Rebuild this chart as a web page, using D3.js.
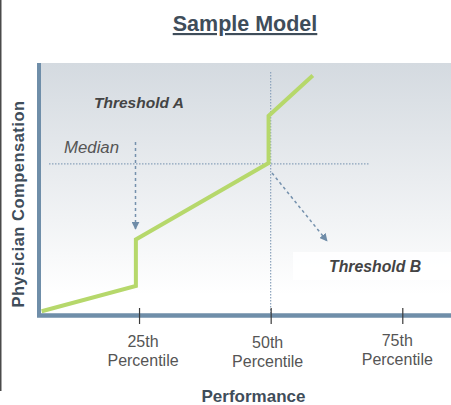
<!DOCTYPE html>
<html>
<head>
<meta charset="utf-8">
<script src="https://cdn.jsdelivr.net/npm/d3@7"></script>
<style>
  html, body { margin: 0; padding: 0; background: #fff; }
  svg { display: block; font-family: "Liberation Sans", Arial, sans-serif; }
</style>
</head>
<body>
<svg id="chart" width="451" height="405"></svg>
<script>
// Performance percentile (x) and compensation index (y) along the pay curve
const curvePct = [6.5, 24.4, 24.4, 49.6, 49.6, 58];
const curveComp = [1.5, 11.5, 30, 60.3, 79, 95];

// Percentile ticks along the performance axis
const tickPct = [25, 50, 75];
const tickTop = ["25th", "50th", "75th"];
const tickBottom = ["Percentile", "Percentile", "Percentile"];
const tickShift = [0, 1, -1];

// Reference levels
const medianComp = 60;
const medianPct = 50;

const svg = d3.select("#chart");
const W = 451, H = 405;
const plot = { left: 39, right: 451, top: 63, bottom: 315 };

const x = d3.scaleLinear().domain([6, 84.25]).range([plot.left, plot.right]);
const y = d3.scaleLinear().domain([0, 100]).range([plot.bottom, plot.top]);

const defs = svg.append("defs");
const grad = defs.append("linearGradient")
  .attr("id", "bg").attr("x1", 0).attr("y1", 0).attr("x2", 0).attr("y2", 1);
grad.append("stop").attr("offset", "0%").attr("stop-color", "#d4dae0");
grad.append("stop").attr("offset", "92%").attr("stop-color", "#ffffff");

const mk = defs.append("marker")
  .attr("id", "arrow").attr("viewBox", "0 0 10 10")
  .attr("refX", 9).attr("refY", 5)
  .attr("markerWidth", 8).attr("markerHeight", 8)
  .attr("markerUnits", "userSpaceOnUse")
  .attr("orient", "auto");
mk.append("path").attr("d", "M0,0 L10,5 L0,10 Z").attr("fill", "#6f8ca8");

// thin page border on the left
svg.append("line")
  .attr("x1", 0.75).attr("x2", 0.75).attr("y1", 0).attr("y2", 391)
  .attr("stroke", "#4a4a4a").attr("stroke-width", 1.5);

// plot background
svg.append("rect")
  .attr("x", plot.left).attr("y", plot.top)
  .attr("width", plot.right - plot.left).attr("height", plot.bottom - plot.top)
  .attr("fill", "url(#bg)");

// white box behind Threshold B
svg.append("rect")
  .attr("x", 293).attr("y", 252).attr("width", W - 293).attr("height", 28)
  .attr("fill", "#ffffff").attr("opacity", 0.85);

// median dotted guide lines
svg.append("line")
  .attr("x1", 49).attr("x2", 369)
  .attr("y1", y(medianComp)).attr("y2", y(medianComp))
  .attr("stroke", "#8aa2bb").attr("stroke-width", 1.2)
  .attr("stroke-dasharray", "1.5,1.5");
svg.append("line")
  .attr("x1", x(medianPct)).attr("x2", x(medianPct))
  .attr("y1", 72).attr("y2", plot.bottom)
  .attr("stroke", "#8aa2bb").attr("stroke-width", 1.2)
  .attr("stroke-dasharray", "1.5,1.5");

// dashed pointers
svg.append("line")
  .attr("x1", 135.5).attr("x2", 135.5).attr("y1", 142).attr("y2", 229)
  .attr("stroke", "#7591ad").attr("stroke-width", 1.5)
  .attr("stroke-dasharray", "3,3")
  .attr("marker-end", "url(#arrow)");
svg.append("line")
  .attr("x1", 272).attr("x2", 327).attr("y1", 173).attr("y2", 241)
  .attr("stroke", "#7591ad").attr("stroke-width", 1.5)
  .attr("stroke-dasharray", "3,3")
  .attr("marker-end", "url(#arrow)");

// pay curve
const pts = curvePct.map((p, i) => [p, curveComp[i]]);
svg.append("path")
  .datum(pts)
  .attr("d", d3.line().x(d => x(d[0])).y(d => y(d[1])))
  .attr("fill", "none")
  .attr("stroke", "#b6d86b")
  .attr("stroke-width", 4)
  .attr("stroke-linejoin", "miter");

// axes
const axisColor = "#6f8ea9";
svg.append("line")
  .attr("x1", plot.left).attr("x2", plot.left)
  .attr("y1", plot.top).attr("y2", plot.bottom + 2)
  .attr("stroke", axisColor).attr("stroke-width", 4);
svg.append("line")
  .attr("x1", plot.left - 2).attr("x2", plot.right)
  .attr("y1", plot.bottom + 0.5).attr("y2", plot.bottom + 0.5)
  .attr("stroke", axisColor).attr("stroke-width", 4.5);

const xAxis = d3.axisBottom(x).tickValues(tickPct).tickSize(16).tickFormat("");
const gx = svg.append("g").attr("transform", `translate(0,${plot.bottom - 7})`).call(xAxis);
gx.select(".domain").remove();
gx.selectAll(".tick line").attr("stroke", "#3a3a3a").attr("stroke-width", 1.2);

const lab = svg.append("g").selectAll("text").data(tickPct).join("text")
  .attr("text-anchor", "middle")
  .attr("fill", "#555")
  .style("font-size", "16px");
lab.append("tspan")
  .attr("x", (d, i) => x(d) + [4, -3, -5][i])
  .attr("y", (d, i) => 347 + tickShift[i])
  .text((d, i) => tickTop[i]);
lab.append("tspan")
  .attr("x", (d, i) => x(d) + [4, -3, -5][i])
  .attr("y", (d, i) => 366 + tickShift[i])
  .text((d, i) => tickBottom[i]);

// titles
svg.append("text")
  .attr("x", 245).attr("y", 31)
  .attr("text-anchor", "middle")
  .attr("fill", "#3f4d5a")
  .style("font-size", "21.5px").style("font-weight", "bold")
  .style("text-decoration", "underline")
  .text("Sample Model");

svg.append("text")
  .attr("x", 253.5).attr("y", 402)
  .attr("text-anchor", "middle")
  .attr("fill", "#3f4d5a")
  .style("font-size", "17px").style("font-weight", "bold")
  .text("Performance");

svg.append("text")
  .attr("transform", "translate(24,204) rotate(-90)")
  .attr("text-anchor", "middle")
  .attr("fill", "#3f4d5a")
  .style("font-size", "16.5px").style("font-weight", "bold")
  .style("letter-spacing", "0.5px")
  .text("Physician Compensation");

// annotations
svg.append("text")
  .attr("x", 94).attr("y", 108)
  .attr("fill", "#444")
  .style("font-size", "15.5px").style("font-weight", "bold").style("font-style", "italic")
  .text("Threshold A");

svg.append("text")
  .attr("x", 64).attr("y", 153)
  .attr("fill", "#555")
  .style("font-size", "16.8px").style("font-style", "italic")
  .text("Median");

svg.append("text")
  .attr("x", 329).attr("y", 272)
  .attr("fill", "#444")
  .style("font-size", "15.8px").style("font-weight", "bold").style("font-style", "italic")
  .text("Threshold B");
</script>
</body>
</html>
